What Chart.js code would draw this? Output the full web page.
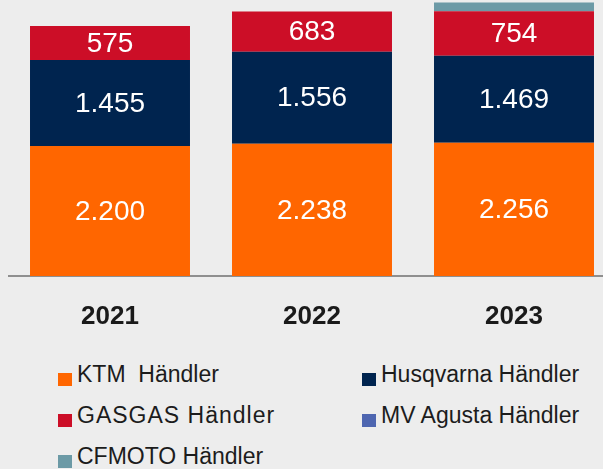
<!DOCTYPE html>
<html lang="de">
<head>
    <meta charset="UTF-8">
    <title>Händlernetz 2021-2023</title>
    <script src="https://cdn.jsdelivr.net/npm/chart.js"></script>
    <style>
        * {
            box-sizing: border-box;
            margin: 0;
            padding: 0;
        }

        body {
            width: 603px;
            height: 469px;
            overflow: hidden;
            background-color: #ededed;
            font-family: "Liberation Sans", Arial, sans-serif;
            position: relative;
        }

        #chartBox {
            position: absolute;
            left: 0;
            top: 0;
            width: 620px;
            height: 336px;
        }

        #legend {
            position: absolute;
            left: 58px;
            top: 361px;
            display: grid;
            grid-template-columns: 304px 240px;
            grid-auto-rows: 41px;
            font-size: 23px;
            color: #1c1c1c;
            white-space: pre;
        }

        /* the GASGAS entry is set a bit wider in the original */
        #legend div:nth-child(3) {
            letter-spacing: 1px;
        }

        .swatch {
            display: inline-block;
            width: 14px;
            height: 13px;
            margin-right: 5px;
            vertical-align: -4px;
        }
    </style>
</head>
<body>

    <div id="chartBox">
        <canvas id="barChart" width="620" height="336"></canvas>
    </div>
    <div id="legend"></div>

    <script>
        // values as printed in the bars
        let years = ["2021", "2022", "2023"];
        let ktm = [2200, 2238, 2256];
        let husqvarna = [1455, 1556, 1469];
        let gasgas = [575, 683, 754];
        let mvAgusta = [0, 0, 0];
        let cfmoto = [0, 0, 150]; // no label in the picture, estimated from the bar

        let seriesNames = ["KTM  Händler", "Husqvarna Händler", "GASGAS Händler", "MV Agusta Händler", "CFMOTO Händler"];
        let seriesColors = ["#ff6600", "#00244f", "#cc0e27", "#4e66b0", "#6c9aa6"];

        // 2.200 instead of 2,200
        function formatDE(v) {
            return String(v).replace(/\B(?=(\d{3})+(?!\d))/g, ".");
        }

        const valueLabels = {
            id: "valueLabels",
            afterDatasetsDraw(chart) {
                let ctx = chart.ctx;
                ctx.save();
                ctx.fillStyle = "#ffffff";
                ctx.font = "28px 'Liberation Sans', Arial, sans-serif";
                ctx.textAlign = "center";
                ctx.textBaseline = "middle";
                chart.data.datasets.forEach((ds, i) => {
                    if (!ds.showValue) return;
                    chart.getDatasetMeta(i).data.forEach((bar, j) => {
                        let v = ds.data[j];
                        if (!v) return;
                        let p = bar.getProps(["x", "y", "base"], true);
                        ctx.fillText(formatDE(v), p.x, (p.y + p.base) / 2 + 1);
                    });
                });
                ctx.restore();
            }
        };

        let allSeries = [ktm, husqvarna, gasgas, mvAgusta, cfmoto];

        let barChart = new Chart(document.getElementById("barChart"), {
            type: "bar",
            data: {
                labels: years,
                datasets: allSeries.map((values, i) => ({
                    label: seriesNames[i],
                    data: values,
                    backgroundColor: seriesColors[i],
                    borderWidth: 0,
                    barPercentage: 0.792,
                    categoryPercentage: 1,
                    showValue: i < 3
                }))
            },
            options: {
                responsive: false,
                animation: false,
                devicePixelRatio: 1,
                layout: {
                    padding: { left: 9, right: 5, top: 0, bottom: 0 }
                },
                plugins: {
                    legend: { display: false },
                    tooltip: { enabled: false }
                },
                scales: {
                    x: {
                        stacked: true,
                        grid: { display: false, drawTicks: false },
                        border: { display: true, color: "#8f8f8f", width: 2 },
                        ticks: {
                            color: "#1a1a1a",
                            padding: 25,
                            font: { family: "'Liberation Sans', Arial, sans-serif", size: 26, weight: "bold" }
                        },
                        afterFit: function(scale) {
                            scale.height = 60;
                        }
                    },
                    y: {
                        stacked: true,
                        display: false,
                        min: 0,
                        max: 4670
                    }
                }
            },
            plugins: [valueLabels]
        });

        // legend in two columns, built from the same names and colours
        let legend = document.getElementById("legend");
        seriesNames.forEach((name, i) => {
            let item = document.createElement("div");
            item.innerHTML = `<span class="swatch" style="background:${seriesColors[i]}"></span>${name}`;
            legend.appendChild(item);
        });
    </script>
</body>
</html>
